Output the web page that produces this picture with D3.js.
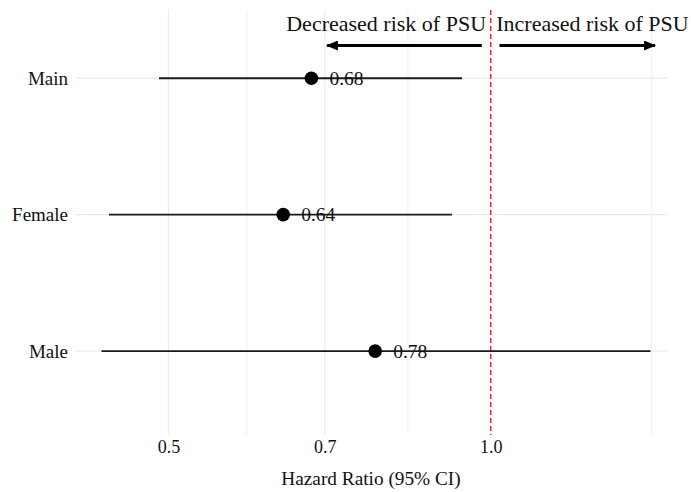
<!DOCTYPE html>
<html>
<head>
<meta charset="utf-8">
<script src="https://cdn.jsdelivr.net/npm/d3@7"></script>
<style>
  body { margin: 0; background: #fff; }
  text { font-family: "Liberation Serif", "Times New Roman", serif; fill: #111; }
</style>
</head>
<body>
<div id="chart"></div>
<script>
// data
const groups = ['Main', 'Female', 'Male'];
const estimates = [0.68, 0.64, 0.78];
const lower = [0.49, 0.44, 0.433];
const upper = [0.94, 0.92, 1.41];
const majorTicks = [0.5, 0.7, 1.0];
const minorTicks = [0.592, 0.837, 1.414];
const arrowLeft = [0.981, 0.703];
const arrowRight = [1.019, 1.424];

const width = 691;
const height = 492;
const margin = ({ top: 10, right: 24, bottom: 57, left: 75 });

const svg = d3.select('#chart').append('svg')
  .attr('width', width)
  .attr('height', height);

const x = d3.scaleLog()
  .domain([0.409, 1.461])
  .range([margin.left, width - margin.right]);

// categories placed on an index axis, top to bottom
const y = d3.scaleLinear()
  .domain([-0.5, 2.615])
  .range([margin.top, height - margin.bottom]);

const panelTop = margin.top;
const panelBottom = height - margin.bottom;

// grid
const grid = svg.append('g').attr('stroke', '#ebebeb');
grid.selectAll('line.minor')
  .data(minorTicks)
  .join('line')
  .attr('class', 'minor')
  .attr('x1', d => x(d)).attr('x2', d => x(d))
  .attr('y1', panelTop).attr('y2', panelBottom)
  .attr('stroke-width', 0.8);
grid.selectAll('line.major')
  .data(majorTicks)
  .join('line')
  .attr('class', 'major')
  .attr('x1', d => x(d)).attr('x2', d => x(d))
  .attr('y1', panelTop).attr('y2', panelBottom)
  .attr('stroke-width', 1.2);
grid.selectAll('line.hz')
  .data(groups)
  .join('line')
  .attr('class', 'hz')
  .attr('x1', margin.left).attr('x2', width - margin.right)
  .attr('y1', (d, i) => y(i)).attr('y2', (d, i) => y(i))
  .attr('stroke-width', 1.2);

// x axis
const xAxis = g => g.attr('transform', `translate(0,${panelBottom})`)
  .call(d3.axisBottom(x).tickValues(majorTicks).tickFormat(d3.format('.1f')).tickSize(0).tickPadding(5))
  .call(g => g.select('.domain').remove())
  .call(g => g.selectAll('text').attr('font-size', 18).attr('fill', '#111'));

svg.append('g').call(xAxis);

svg.append('text')
  .attr('x', (margin.left + width - margin.right) / 2)
  .attr('y', 485)
  .attr('text-anchor', 'middle')
  .attr('font-size', 19.3)
  .text('Hazard Ratio (95% CI)');

// y axis labels
svg.append('g')
  .selectAll('text')
  .data(groups)
  .join('text')
  .attr('x', 68)
  .attr('y', (d, i) => y(i))
  .attr('dy', '0.35em')
  .attr('text-anchor', 'end')
  .attr('font-size', 19)
  .text(d => d);

// reference line
svg.append('line')
  .attr('x1', x(1)).attr('x2', x(1))
  .attr('y1', panelTop).attr('y2', panelBottom)
  .attr('stroke', '#ee2a35')
  .attr('stroke-width', 1.5)
  .attr('stroke-dasharray', '5,3');

// confidence intervals
svg.append('g')
  .selectAll('line')
  .data(groups)
  .join('line')
  .attr('x1', (d, i) => x(lower[i]))
  .attr('x2', (d, i) => x(upper[i]))
  .attr('y1', (d, i) => y(i))
  .attr('y2', (d, i) => y(i))
  .attr('stroke', '#1a1a1a')
  .attr('stroke-width', 1.9);

// estimates
svg.append('g')
  .selectAll('circle')
  .data(estimates)
  .join('circle')
  .attr('cx', d => x(d))
  .attr('cy', (d, i) => y(i))
  .attr('r', 6.8)
  .attr('fill', '#000');

svg.append('g')
  .selectAll('text')
  .data(estimates)
  .join('text')
  .attr('x', d => x(d) + 18)
  .attr('y', (d, i) => y(i))
  .attr('dy', '0.35em')
  .attr('font-size', 19.5)
  .text(d => d3.format('.2f')(d));

// direction arrows
const defs = svg.append('defs');
defs.append('marker')
  .attr('id', 'head')
  .attr('viewBox', '0 0 12 10')
  .attr('refX', 11)
  .attr('refY', 5)
  .attr('markerUnits', 'userSpaceOnUse')
  .attr('markerWidth', 12)
  .attr('markerHeight', 10)
  .attr('orient', 'auto')
  .append('path')
  .attr('d', 'M0,0 L12,5 L0,10 Z')
  .attr('fill', '#000');

const arrowY = 45.5;
[arrowLeft, arrowRight].forEach(a => {
  svg.append('line')
    .attr('x1', x(a[0])).attr('x2', x(a[1]))
    .attr('y1', arrowY).attr('y2', arrowY)
    .attr('stroke', '#000')
    .attr('stroke-width', 3)
    .attr('marker-end', 'url(#head)');
});

svg.append('text')
  .attr('x', x(0.99))
  .attr('y', 30.5)
  .attr('text-anchor', 'end')
  .attr('font-size', 22)
  .text('Decreased risk of PSU');

svg.append('text')
  .attr('x', x(1.012))
  .attr('y', 30.5)
  .attr('text-anchor', 'start')
  .attr('font-size', 22)
  .text('Increased risk of PSU');
</script>
</body>
</html>
